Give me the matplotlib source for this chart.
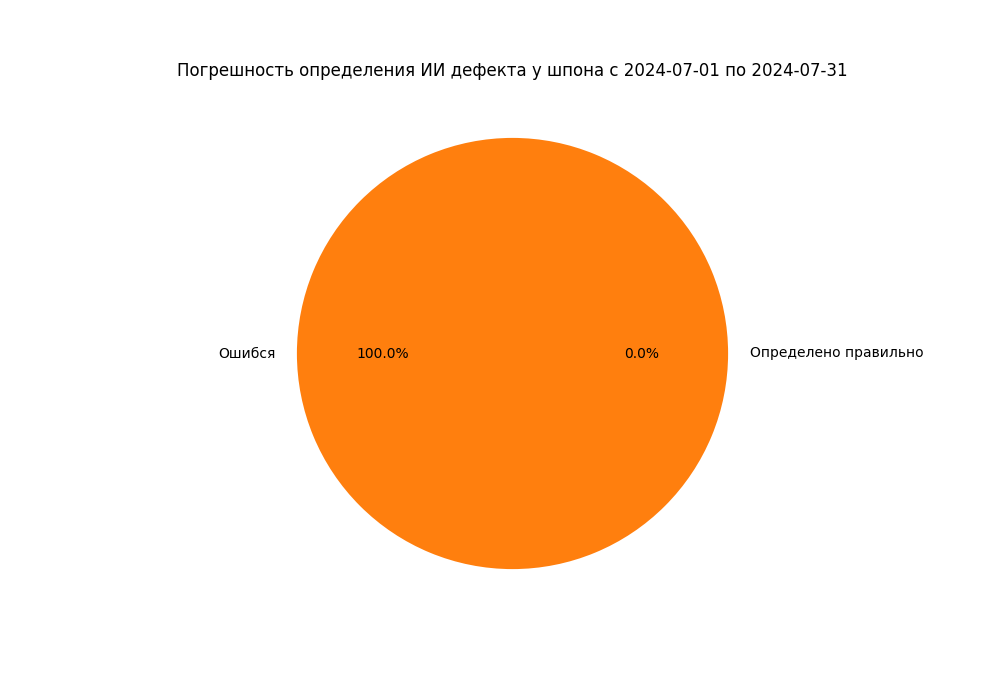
import matplotlib
matplotlib.use("Agg")
import matplotlib.pyplot as plt

# доля правильных и ошибочных определений
metki = ['Определено правильно', 'Ошибся']
znacheniya = [0, 100]

fig = plt.figure(figsize=(10, 7), dpi=100)
plt.pie(znacheniya, labels=metki, autopct='%1.1f%%')
plt.title('Погрешность определения ИИ дефекта у шпона с 2024-07-01 по 2024-07-31')
plt.savefig('out.png')
